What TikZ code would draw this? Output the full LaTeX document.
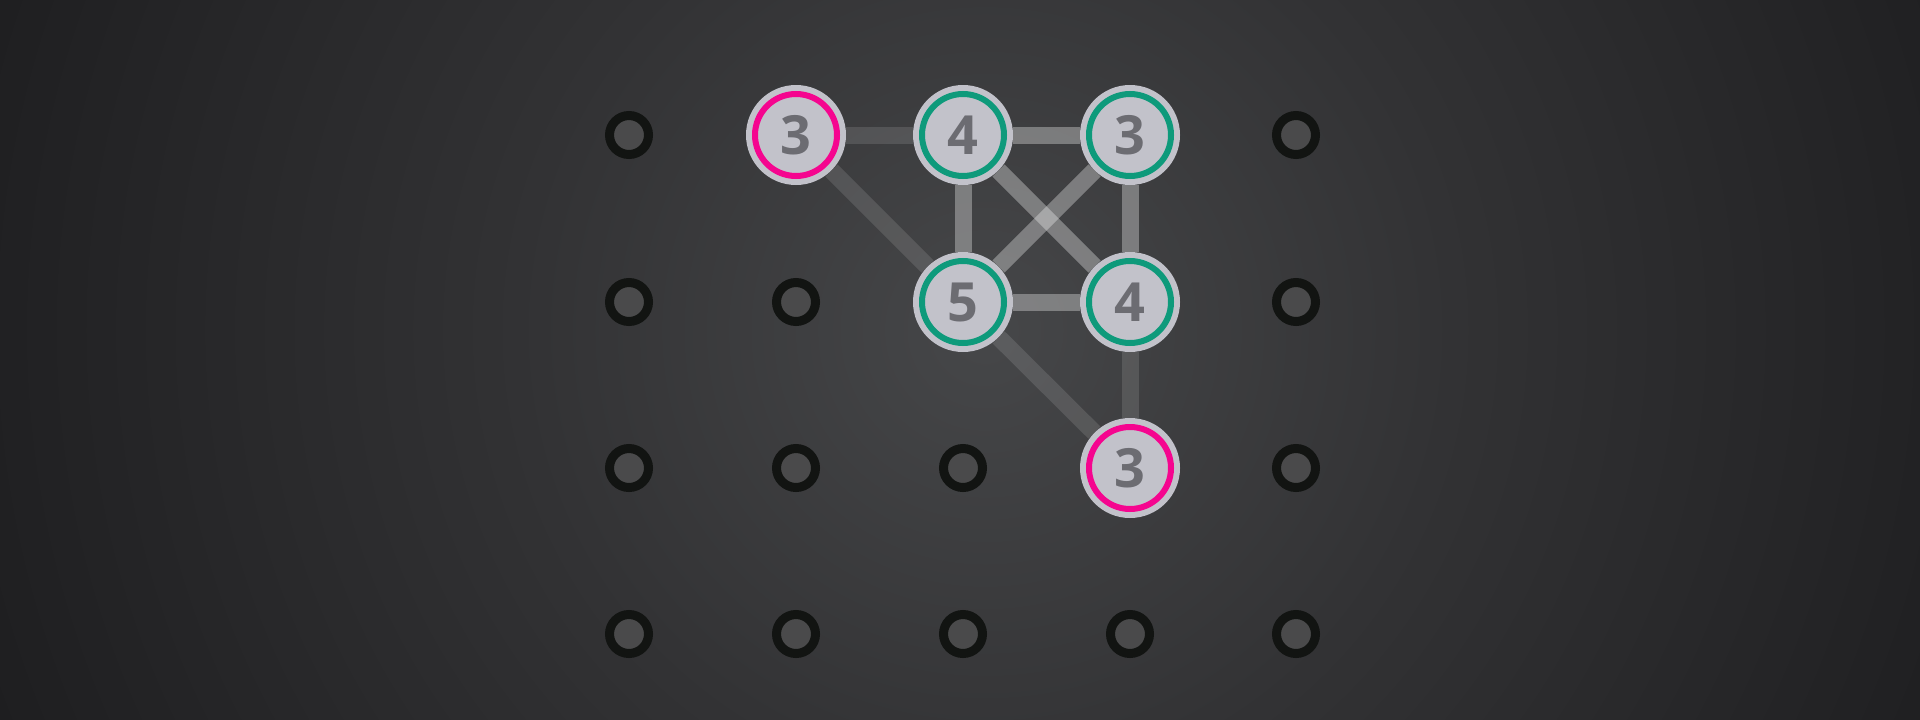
\documentclass[tikz,border=0pt]{standalone}
\usepackage{fontspec}
\setmainfont{Open Sans}
\definecolor{bgC}{HTML}{464749}
\definecolor{bgM}{HTML}{323234}
\definecolor{bgO}{HTML}{1D1D1F}
\definecolor{nodefill}{HTML}{C2C2CA}
\definecolor{numcol}{HTML}{6C6C72}
\definecolor{pinkring}{HTML}{F5058F}
\definecolor{greenring}{HTML}{0E9A7B}
\definecolor{dotring}{HTML}{121412}
\definecolor{dotfill}{HTML}{4A4A4B}
\pgfdeclareradialshading{bgshade}{\pgfpoint{0bp}{0bp}}{color(0bp)=(bgC); color(9bp)=(bgM); color(21bp)=(bgO); color(50bp)=(bgO)}
\pgfdeclarelayer{bg}
\pgfdeclarelayer{edges}
\pgfsetlayers{bg,edges,main}
\tikzset{
  emptydot/.style={circle, minimum size=39pt, inner sep=0pt, fill=dotfill, draw=dotring, line width=9pt},
  island/.style={circle, minimum size=100pt, inner sep=0pt, fill=nodefill, text=numcol,
     font=\fontsize{54}{54}\selectfont\bfseries},
  pinkisl/.style={island, path picture={\draw[pinkring, line width=6pt] (path picture bounding box.center) circle (41pt);}},
  greenisl/.style={island, path picture={\draw[greenring, line width=6pt] (path picture bounding box.center) circle (41pt);}},
  lightedge/.style={draw=white, draw opacity=0.32, line width=17pt},
  darkedge/.style={draw=white, draw opacity=0.12, line width=17pt},
}
\begin{document}
\begin{tikzpicture}[x=1pt, y=-1pt]
\useasboundingbox (0,0) rectangle (1920,720);
\begin{pgfonlayer}{bg}
\fill[bgO] (0,0) rectangle (1920,720);
\begin{scope}
\clip (0,0) rectangle (1920,720);
\shade[shading=bgshade] (985,330) circle (1300pt);
\end{scope}
\end{pgfonlayer}
% grid positions
\foreach \i/\x in {0/629,1/796,2/963,3/1130,4/1296}{
  \foreach \j/\y in {0/135,1/302,2/468,3/634}{
    \coordinate (g\i\j) at (\x,\y);
  }
}
\foreach \n in {g00,g40,g01,g11,g41,g02,g12,g22,g42,g03,g13,g23,g33,g43}{
  \node[emptydot] (d\n) at (\n) {};
}
% islands
\node[pinkisl]  (a) at (g10) {3};
\node[greenisl] (b) at (g20) {4};
\node[greenisl] (c) at (g30) {3};
\node[greenisl] (d) at (g21) {5};
\node[greenisl] (e) at (g31) {4};
\node[pinkisl]  (f) at (g32) {3};
% bridges
\begin{pgfonlayer}{edges}
\path[darkedge] (a) -- (b);
\path[darkedge] (a) -- (d);
\path[darkedge] (d) -- (f);
\path[darkedge] (e) -- (f);
\path[lightedge] (b) -- (c);
\path[lightedge] (b) -- (d);
\path[lightedge] (b) -- (e);
\path[lightedge] (c) -- (d);
\path[lightedge] (c) -- (e);
\path[lightedge] (d) -- (e);
\end{pgfonlayer}
\end{tikzpicture}
\end{document}
